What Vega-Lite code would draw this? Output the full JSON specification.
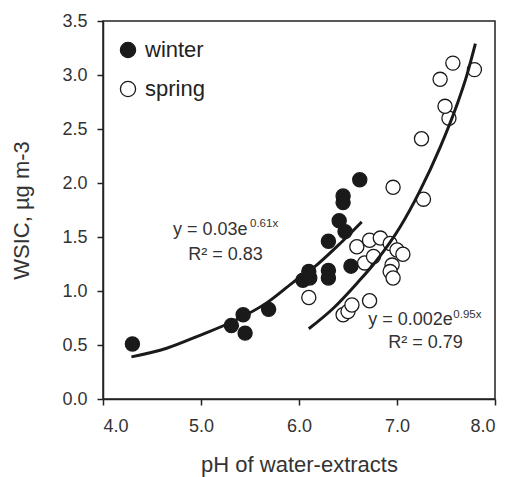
{
  "$schema": "https://vega.github.io/schema/vega-lite/v6.json",
  "width": 392,
  "height": 378,
  "autosize": {"type": "none"},
  "padding": {"left": 103, "top": 21, "right": 11, "bottom": 78},
  "background": "white",
  "config": {
    "font": "Liberation Sans",
    "view": {"stroke": "#222", "strokeWidth": 1.5},
    "axis": {"grid": false, "domainColor": "#222", "domainWidth": 1.5, "tickColor": "#222", "tickWidth": 1.5, "tickSize": 6, "labelColor": "#333", "titleColor": "#333", "labelFont": "Liberation Sans", "titleFont": "Liberation Sans", "labelFontSize": 18, "titleFontSize": 22, "titleFontWeight": "normal"}
  },
  "datasets": {
    "pts": [
      {"season": "winter", "ph": 4.30, "wsic": 0.51},
      {"season": "winter", "ph": 5.31, "wsic": 0.68},
      {"season": "winter", "ph": 5.43, "wsic": 0.78},
      {"season": "winter", "ph": 5.45, "wsic": 0.61},
      {"season": "winter", "ph": 5.69, "wsic": 0.83},
      {"season": "winter", "ph": 6.04, "wsic": 1.10},
      {"season": "winter", "ph": 6.11, "wsic": 1.12},
      {"season": "winter", "ph": 6.10, "wsic": 1.18},
      {"season": "winter", "ph": 6.30, "wsic": 1.19},
      {"season": "winter", "ph": 6.30, "wsic": 1.12},
      {"season": "winter", "ph": 6.30, "wsic": 1.46},
      {"season": "winter", "ph": 6.41, "wsic": 1.65},
      {"season": "winter", "ph": 6.45, "wsic": 1.82},
      {"season": "winter", "ph": 6.45, "wsic": 1.88},
      {"season": "winter", "ph": 6.47, "wsic": 1.55},
      {"season": "winter", "ph": 6.53, "wsic": 1.23},
      {"season": "winter", "ph": 6.62, "wsic": 2.03},
      {"season": "spring", "ph": 6.10, "wsic": 0.94},
      {"season": "spring", "ph": 6.45, "wsic": 0.78},
      {"season": "spring", "ph": 6.50, "wsic": 0.81},
      {"season": "spring", "ph": 6.54, "wsic": 0.87},
      {"season": "spring", "ph": 6.72, "wsic": 0.91},
      {"season": "spring", "ph": 6.59, "wsic": 1.41},
      {"season": "spring", "ph": 6.67, "wsic": 1.26},
      {"season": "spring", "ph": 6.72, "wsic": 1.47},
      {"season": "spring", "ph": 6.83, "wsic": 1.49},
      {"season": "spring", "ph": 6.76, "wsic": 1.32},
      {"season": "spring", "ph": 6.93, "wsic": 1.44},
      {"season": "spring", "ph": 7.00, "wsic": 1.38},
      {"season": "spring", "ph": 7.06, "wsic": 1.34},
      {"season": "spring", "ph": 6.95, "wsic": 1.24},
      {"season": "spring", "ph": 6.93, "wsic": 1.18},
      {"season": "spring", "ph": 6.96, "wsic": 1.12},
      {"season": "spring", "ph": 6.96, "wsic": 1.96},
      {"season": "spring", "ph": 7.27, "wsic": 1.85},
      {"season": "spring", "ph": 7.25, "wsic": 2.41},
      {"season": "spring", "ph": 7.53, "wsic": 2.60},
      {"season": "spring", "ph": 7.49, "wsic": 2.71},
      {"season": "spring", "ph": 7.44, "wsic": 2.96},
      {"season": "spring", "ph": 7.57, "wsic": 3.11},
      {"season": "spring", "ph": 7.79, "wsic": 3.05}
    ],
    "fits": [
      {"season": "winter", "ph": 4.29, "wsic": 0.39},
      {"season": "winter", "ph": 4.65, "wsic": 0.47},
      {"season": "winter", "ph": 4.99, "wsic": 0.59},
      {"season": "winter", "ph": 5.33, "wsic": 0.72},
      {"season": "winter", "ph": 5.67, "wsic": 0.89},
      {"season": "winter", "ph": 5.94, "wsic": 1.08},
      {"season": "winter", "ph": 6.18, "wsic": 1.24},
      {"season": "winter", "ph": 6.42, "wsic": 1.44},
      {"season": "winter", "ph": 6.64, "wsic": 1.64},
      {"season": "spring", "ph": 6.10, "wsic": 0.65},
      {"season": "spring", "ph": 6.35, "wsic": 0.84},
      {"season": "spring", "ph": 6.59, "wsic": 1.07},
      {"season": "spring", "ph": 6.79, "wsic": 1.28},
      {"season": "spring", "ph": 7.03, "wsic": 1.59},
      {"season": "spring", "ph": 7.23, "wsic": 1.92},
      {"season": "spring", "ph": 7.44, "wsic": 2.33},
      {"season": "spring", "ph": 7.61, "wsic": 2.72},
      {"season": "spring", "ph": 7.71, "wsic": 2.99},
      {"season": "spring", "ph": 7.80, "wsic": 3.29}
    ],
    "notes": [
      {"part": "main", "label": "y = 0.03e", "ph": 4.714, "wsic": 1.52},
      {"part": "sup", "label": "0.61x", "ph": 5.50, "wsic": 1.595},
      {"part": "main", "label": "R² = 0.83", "ph": 4.87, "wsic": 1.287},
      {"part": "main", "label": "y = 0.002e", "ph": 6.707, "wsic": 0.685},
      {"part": "sup", "label": "0.95x", "ph": 7.575, "wsic": 0.75},
      {"part": "main", "label": "R² = 0.79", "ph": 6.911, "wsic": 0.472}
    ]
  },
  "encoding": {
    "x": {"field": "ph", "type": "quantitative", "scale": {"domain": [4, 8], "nice": false, "zero": false},
      "axis": {"title": "pH of water-extracts", "values": [4, 5, 6, 7, 8], "format": ".1f", "labelPadding": 12, "titlePadding": 19}},
    "y": {"field": "wsic", "type": "quantitative", "scale": {"domain": [0, 3.5], "nice": false},
      "axis": {"title": "WSIC, µg m-3", "values": [0, 0.5, 1, 1.5, 2, 2.5, 3, 3.5], "format": ".1f", "labelPadding": 10, "titlePadding": 28}}
  },
  "layer": [
    {
      "data": {"name": "pts"},
      "mark": {"type": "point", "shape": "circle", "filled": true, "size": 200, "stroke": "#1a1a1a", "strokeWidth": 1.3, "opacity": 1},
      "encoding": {
        "fill": {"field": "season", "type": "nominal", "scale": {"domain": ["winter", "spring"], "range": ["#1a1a1a", "white"]},
          "legend": {"title": null, "orient": "none", "legendX": 14, "legendY": 18, "labelFontSize": 22, "labelColor": "#222", "labelFont": "Liberation Sans", "symbolSize": 230, "symbolStrokeColor": "#1a1a1a", "symbolStrokeWidth": 1.3, "symbolType": "circle", "rowPadding": 17, "labelOffset": 6}},
        "order": {"field": "season", "sort": "descending"}
      }
    },
    {
      "data": {"name": "fits"},
      "mark": {"type": "line", "color": "#1a1a1a", "strokeWidth": 3, "interpolate": "monotone"},
      "encoding": {"detail": {"field": "season", "type": "nominal"}}
    },
    {
      "data": {"name": "notes"},
      "transform": [{"filter": "datum.part === 'main'"}],
      "mark": {"type": "text", "align": "left", "baseline": "alphabetic", "fontSize": 18, "color": "#333"},
      "encoding": {"text": {"field": "label"}}
    },
    {
      "data": {"name": "notes"},
      "transform": [{"filter": "datum.part === 'sup'"}],
      "mark": {"type": "text", "align": "left", "baseline": "alphabetic", "fontSize": 11.5, "color": "#333"},
      "encoding": {"text": {"field": "label"}}
    }
  ]
}
